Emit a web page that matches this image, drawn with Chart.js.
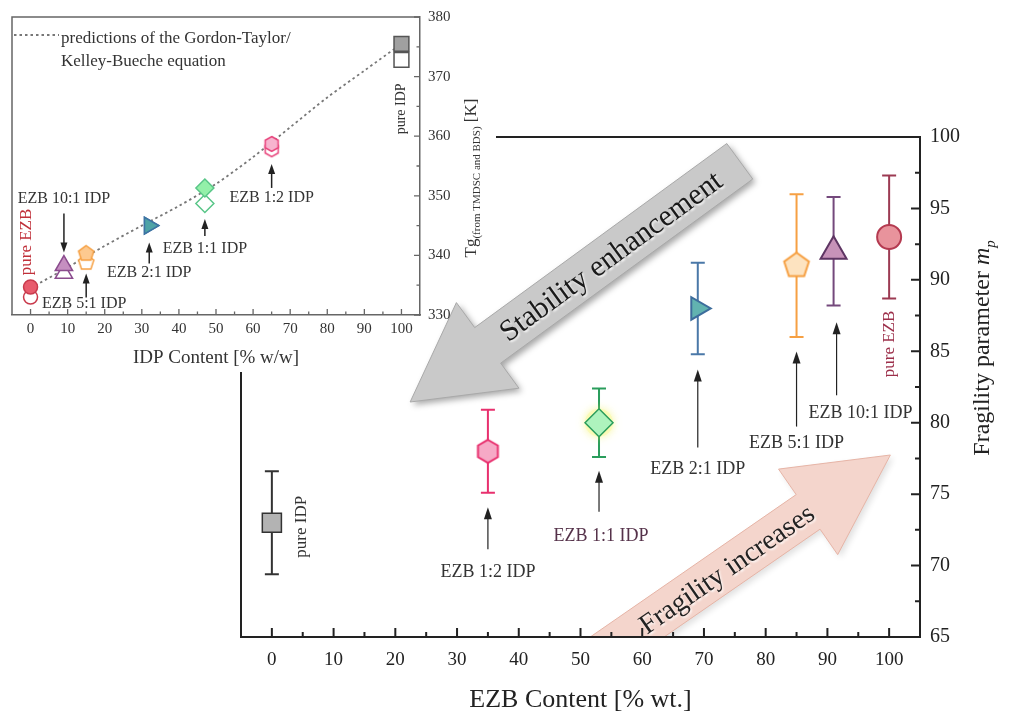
<!DOCTYPE html>
<html><head><meta charset="utf-8">
<script src="https://cdn.jsdelivr.net/npm/chart.js@4.4.0/dist/chart.umd.min.js"></script>
<style>
html,body{margin:0;padding:0;background:#fff;}
#wrap{position:relative;width:1009px;height:716px;overflow:hidden;background:#fff;}
#main{position:absolute;left:0;top:0;}
#inset{position:absolute;left:0;top:0;}
</style></head><body>
<div id="wrap"><canvas id="main" width="1009" height="716"></canvas><canvas id="inset" width="496" height="372"></canvas></div>
<script>
// ---------------- DATA ----------------
const SAMPLES = ['pure IDP','EZB 1:2 IDP','EZB 1:1 IDP','EZB 2:1 IDP','EZB 5:1 IDP','EZB 10:1 IDP','pure EZB'];
const EZB_CONTENT = [0, 35, 53, 69, 85, 91, 100];
const FRAGILITY = [73, 78, 80, 88, 91, 92, 93];
const FRAGILITY_ERR = [3.6, 2.9, 2.4, 3.2, 5.0, 3.8, 4.3];
const IDP_CONTENT = [100, 65, 47, 32, 15, 9, 0];
const TG_TMDSC = [375.5, 358.7, 351.3, 345.0, 340.3, 338.3, 334.7];
const TG_BDS = [372.8, 357.8, 348.7, 345.0, 338.8, 337.0, 333.0];
const GT_IDP = [0, 10, 20, 30, 40, 50, 60, 70, 80, 90, 100];
const GT_TG = [334.5, 338, 341.6, 345, 348.3, 352, 356.5, 361.5, 366.5, 371, 375.5];
const MAIN_X_TICKS = [0, 10, 20, 30, 40, 50, 60, 70, 80, 90, 100];
const MAIN_Y_TICKS = [65, 70, 75, 80, 85, 90, 95, 100];
const INSET_X_TICKS = [0, 10, 20, 30, 40, 50, 60, 70, 80, 90, 100];
const INSET_Y_TICKS = [330, 340, 350, 360, 370, 380];

// ---------------- STYLE ----------------
const SERIF = '"Liberation Serif", "Times New Roman", serif';
const INSET_BOX = {w: 496, h: 372};
const MAIN_LOOK = [
  {style:'rect', r:13.5, rot:0, fill:'#b3b3b3', stroke:'#333333', lw:1.5, bar:'#333333'},
  {style:'hex', r:11.5, rot:0, fill:'#f6a9c6', stroke:'#e8306e', lw:2, bar:'#e8306e'},
  {style:'rectRot', r:14, rot:0, fill:'#aef3bd', stroke:'#2a9d5c', lw:1.5, bar:'#2a9d5c'},
  {style:'triangle', r:13, rot:90, fill:'#62b3b0', stroke:'#3d6d9c', lw:2, bar:'#4a78a8'},
  {style:'pent', r:13, rot:0, fill:'#fde3c0', stroke:'#f6a043', lw:2, bar:'#f6a043'},
  {style:'triangle', r:15, rot:0, fill:'#c792b9', stroke:'#5e3563', lw:2, bar:'#74497c'},
  {style:'circle', r:12, rot:0, fill:'#e8939c', stroke:'#b43a50', lw:2, bar:'#9c3a52'}
];
const INSET_LOOK = [
  {style:'rect', r:10.5, rot:0, fill:'#a0a0a0', stroke:'#555555'},
  {style:'hex', r:7.5, rot:0, fill:'#f7b4cf', stroke:'#e8447c'},
  {style:'rectRot', r:9, rot:0, fill:'#93f0a9', stroke:'#59c688'},
  {style:'triangle', r:9.5, rot:90, fill:'#4ea3a6', stroke:'#3d73a3'},
  {style:'pent', r:8, rot:0, fill:'#fdc98f', stroke:'#f6a043'},
  {style:'triangle', r:10, rot:0, fill:'#c58fc0', stroke:'#8b4c8e'},
  {style:'circle', r:7, rot:0, fill:'#e85b6c', stroke:'#c93a4c'}
];
const MAIN_NOTES = [
  {i:0, rotated:true, dx:30, dy:4, color:'#333', size:17},
  {i:1, arrow:[98,56], textDy:121, color:'#333'},
  {i:2, arrow:[89,48], textDx:2, textDy:114, color:'#55324a'},
  {i:3, arrow:[139,61], textDy:161, color:'#333'},
  {i:4, arrow:[161,86], textDy:178, color:'#333'},
  {i:5, arrow:[144,71], arrowDx:3, textDx:27, textDy:162, color:'#333'},
  {i:6, rotated:true, dx:0, dy:107, color:'#9c2f4a', size:17}
];
const INSET_NOTES = [
  {i:0, rotated:true, dx:0, dy:65, size:14, color:'#333'},
  {i:1, arrow:[44,20], textDy:54},
  {i:2, arrow:[48,31], textDy:61},
  {i:3, arrow:[38,17], textDy:47},
  {i:4, arrow:[44,20], textDx:-2, textDy:50},
  {i:5, arrow:[-52,-13], textDy:-67},
  {i:6, rotated:true, dx:-4, dy:-45, size:17, color:'#c0303a'}
];
const BIG_ARROWS = [
  {text:'Stability enhancement', tail:[75.8, 98.3], tip:[22.4, 81.45], half:22, headHalf:53, headLen:96,
   fill:'#c9c9c9', stroke:'#a9a9a9', shadow:'rgba(0,0,0,0.35)', font:30, shift:-4, color:'#1a1a1a', clip:false},
  {text:'Fragility increases', tail:[52.4, 63.46], tip:[100.2, 77.74], half:21, headHalf:52, headLen:100,
   fill:'#f4d5cc', stroke:'#e6b4a6', shadow:'rgba(0,0,0,0.12)', font:28, shift:30, color:'#222', clip:true}
];

function polyCanvas(n, r, fill, stroke, lw) {
  const s = Math.ceil(2 * r + 2 * lw + 2);
  const c = document.createElement('canvas');
  c.width = s; c.height = s;
  const g = c.getContext('2d');
  g.translate(s / 2, s / 2);
  g.beginPath();
  for (let k = 0; k < n; k++) {
    const a = -Math.PI / 2 + k * 2 * Math.PI / n;
    g.lineTo(r * Math.cos(a), r * Math.sin(a));
  }
  g.closePath();
  g.fillStyle = fill; g.fill();
  g.lineWidth = lw; g.strokeStyle = stroke; g.stroke();
  return c;
}
function styleFor(look, fill, lw) {
  if (look.style === 'hex') return polyCanvas(6, look.r, fill, look.stroke, lw);
  if (look.style === 'pent') return polyCanvas(5, look.r, fill, look.stroke, lw);
  return look.style;
}
function midpoints(arr) { const m = []; for (let k = 0; k < arr.length - 1; k++) m.push((arr[k] + arr[k + 1]) / 2); return m; }

function smallArrow(ctx, x, yTail, yTip, headLen, headHalf, lw, color) {
  const dir = yTip < yTail ? -1 : 1;
  ctx.save();
  ctx.strokeStyle = color; ctx.fillStyle = color; ctx.lineWidth = lw;
  ctx.beginPath(); ctx.moveTo(x, yTail); ctx.lineTo(x, yTip - dir * headLen * 0.6); ctx.stroke();
  ctx.beginPath(); ctx.moveTo(x, yTip); ctx.lineTo(x - headHalf, yTip - dir * headLen); ctx.lineTo(x + headHalf, yTip - dir * headLen); ctx.closePath(); ctx.fill();
  ctx.restore();
}
function drawNotes(ctx, notes, xs, ys, pxFn, pyFn, baseSize, arrowOpts) {
  notes.forEach(n => {
    const px = pxFn(xs[n.i]), py = pyFn(ys[n.i]);
    ctx.save();
    ctx.fillStyle = n.color || '#333';
    ctx.textAlign = 'center'; ctx.textBaseline = 'middle';
    if (n.rotated) {
      ctx.font = (n.size || baseSize) + 'px ' + SERIF;
      ctx.translate(px + n.dx, py + n.dy); ctx.rotate(-Math.PI / 2);
      ctx.fillText(SAMPLES[n.i], 0, 0);
    } else {
      smallArrow(ctx, px + (n.arrowDx || 0), py + n.arrow[0], py + n.arrow[1], arrowOpts.len, arrowOpts.half, arrowOpts.lw, '#222');
      ctx.font = (n.size || baseSize) + 'px ' + SERIF;
      ctx.fillText(SAMPLES[n.i], px + (n.textDx || 0), py + n.textDy);
    }
    ctx.restore();
  });
}
function drawInwardTicks(ctx, chart, majX, majY, lenMaj, lenMin, color, lw) {
  const xs = chart.scales.x, ys = chart.scales.y, a = chart.chartArea;
  ctx.save(); ctx.strokeStyle = color; ctx.lineWidth = lw; ctx.beginPath();
  majX.forEach(v => { const p = xs.getPixelForValue(v); ctx.moveTo(p, a.bottom); ctx.lineTo(p, a.bottom - lenMaj); });
  midpoints(majX).forEach(v => { const p = xs.getPixelForValue(v); ctx.moveTo(p, a.bottom); ctx.lineTo(p, a.bottom - lenMin); });
  majY.forEach(v => { const p = ys.getPixelForValue(v); ctx.moveTo(a.right, p); ctx.lineTo(a.right - lenMaj, p); });
  midpoints(majY).forEach(v => { const p = ys.getPixelForValue(v); ctx.moveTo(a.right, p); ctx.lineTo(a.right - lenMin, p); });
  ctx.stroke(); ctx.restore();
}
function richRotated(ctx, xBase, cy, parts) {
  ctx.save();
  ctx.translate(xBase, cy); ctx.rotate(-Math.PI / 2);
  ctx.textBaseline = 'alphabetic'; ctx.textAlign = 'left';
  let total = 0;
  parts.forEach(p => { ctx.font = p.font; p.w = ctx.measureText(p.t).width; total += p.w; });
  let x = -total / 2;
  parts.forEach(p => { ctx.font = p.font; ctx.fillStyle = p.color; ctx.fillText(p.t, x, p.dy || 0); x += p.w; });
  ctx.restore();
}
function drawBigArrow(ctx, A, xs, ys, area) {
  const tail = [xs.getPixelForValue(A.tail[0]), ys.getPixelForValue(A.tail[1])];
  const tip = [xs.getPixelForValue(A.tip[0]), ys.getPixelForValue(A.tip[1])];
  const dx = tip[0] - tail[0], dy = tip[1] - tail[1], L = Math.hypot(dx, dy);
  const ux = dx / L, uy = dy / L, nx = -uy, ny = ux;
  const bx = tip[0] - ux * A.headLen, by = tip[1] - uy * A.headLen;
  ctx.save();
  if (A.clip) { ctx.beginPath(); ctx.rect(0, 0, ctx.canvas.width, area.bottom - 1); ctx.clip(); }
  ctx.beginPath();
  ctx.moveTo(tail[0] + nx * A.half, tail[1] + ny * A.half);
  ctx.lineTo(bx + nx * A.half, by + ny * A.half);
  ctx.lineTo(bx + nx * A.headHalf, by + ny * A.headHalf);
  ctx.lineTo(tip[0], tip[1]);
  ctx.lineTo(bx - nx * A.headHalf, by - ny * A.headHalf);
  ctx.lineTo(bx - nx * A.half, by - ny * A.half);
  ctx.lineTo(tail[0] - nx * A.half, tail[1] - ny * A.half);
  ctx.closePath();
  ctx.shadowColor = A.shadow; ctx.shadowBlur = 6; ctx.shadowOffsetX = 3; ctx.shadowOffsetY = 3;
  ctx.fillStyle = A.fill; ctx.fill();
  ctx.shadowColor = 'transparent';
  ctx.lineWidth = 1; ctx.strokeStyle = A.stroke; ctx.stroke();
  let ang = Math.atan2(dy, dx);
  let rx = ux, ry = uy;
  if (Math.cos(ang) < 0) { ang += Math.PI; rx = -ux; ry = -uy; }
  const mx = (tail[0] + bx) / 2 + rx * A.shift, my = (tail[1] + by) / 2 + ry * A.shift;
  ctx.translate(mx, my); ctx.rotate(ang);
  ctx.font = A.font + 'px ' + SERIF; ctx.textAlign = 'center'; ctx.textBaseline = 'middle';
  ctx.shadowColor = 'rgba(255,255,255,0.9)'; ctx.shadowBlur = 2; ctx.shadowOffsetX = 1.5; ctx.shadowOffsetY = 1.5;
  ctx.fillStyle = A.color; ctx.fillText(A.text, 0, 2);
  ctx.restore();
}

// ---------------- MAIN CHART ----------------
const mainDecor = {
  id: 'mainDecor',
  beforeDatasetsDraw(chart) {
    const ctx = chart.ctx, xs = chart.scales.x, ys = chart.scales.y;
    EZB_CONTENT.forEach((xv, k) => {
      const px = xs.getPixelForValue(xv);
      const y1 = ys.getPixelForValue(FRAGILITY[k] + FRAGILITY_ERR[k]);
      const y2 = ys.getPixelForValue(FRAGILITY[k] - FRAGILITY_ERR[k]);
      ctx.save(); ctx.strokeStyle = MAIN_LOOK[k].bar; ctx.lineWidth = 2;
      ctx.beginPath(); ctx.moveTo(px, y1); ctx.lineTo(px, y2);
      ctx.moveTo(px - 7, y1); ctx.lineTo(px + 7, y1);
      ctx.moveTo(px - 7, y2); ctx.lineTo(px + 7, y2);
      ctx.stroke(); ctx.restore();
    });
    const k2 = 2, gx = xs.getPixelForValue(EZB_CONTENT[k2]), gy = ys.getPixelForValue(FRAGILITY[k2]);
    ctx.save(); ctx.shadowColor = 'rgba(240,240,80,0.9)'; ctx.shadowBlur = 8;
    ctx.fillStyle = 'rgba(250,250,170,0.6)'; ctx.beginPath(); ctx.arc(gx, gy, 14, 0, Math.PI * 2); ctx.fill(); ctx.restore();
  },
  afterDraw(chart) {
    const ctx = chart.ctx, a = chart.chartArea, xs = chart.scales.x, ys = chart.scales.y;
    BIG_ARROWS.forEach(A => drawBigArrow(ctx, A, xs, ys, a));
    ctx.save(); ctx.strokeStyle = '#222'; ctx.lineWidth = 2;
    ctx.beginPath();
    ctx.moveTo(INSET_BOX.w, a.top); ctx.lineTo(a.right, a.top);
    ctx.moveTo(a.left, INSET_BOX.h); ctx.lineTo(a.left, a.bottom);
    ctx.stroke(); ctx.restore();
    drawInwardTicks(ctx, chart, MAIN_X_TICKS, MAIN_Y_TICKS, 9, 5, '#222', 2);
    drawNotes(ctx, MAIN_NOTES, EZB_CONTENT, FRAGILITY, v => xs.getPixelForValue(v), v => ys.getPixelForValue(v), 18, {len:12, half:4, lw:1.2});
    richRotated(ctx, 989, 348, [
      {t:'Fragility parameter ', font:'24px ' + SERIF, color:'#222'},
      {t:'m', font:'italic 24px ' + SERIF, color:'#222'},
      {t:'p', font:'italic 15px ' + SERIF, color:'#222', dy:6}
    ]);
  }
};

new Chart(document.getElementById('main'), {
  type: 'scatter',
  data: {datasets: [{
    data: EZB_CONTENT.map((x, k) => ({x, y: FRAGILITY[k]})),
    pointStyle: MAIN_LOOK.map(l => styleFor(l, l.fill, l.lw)),
    pointRadius: MAIN_LOOK.map(l => l.r),
    pointRotation: MAIN_LOOK.map(l => l.rot),
    pointBackgroundColor: MAIN_LOOK.map(l => l.fill),
    pointBorderColor: MAIN_LOOK.map(l => l.stroke),
    pointBorderWidth: MAIN_LOOK.map(l => l.lw)
  }]},
  options: {
    responsive: false, animation: false, events: [], devicePixelRatio: 1,
    layout: {padding: {left: 241, top: 137, right: 0, bottom: 0}},
    plugins: {legend: {display: false}, tooltip: {enabled: false}},
    scales: {
      x: {type: 'linear', position: 'bottom', min: -5, max: 105,
        afterBuildTicks: s => { s.ticks = MAIN_X_TICKS.map(v => ({value: v})); },
        afterFit: s => { s.height = 79; },
        grid: {display: false, drawTicks: false},
        border: {display: true, color: '#222', width: 2},
        ticks: {padding: 12, color: '#222', font: {family: SERIF, size: 19}, maxRotation: 0, autoSkip: false},
        title: {display: true, text: 'EZB Content [% wt.]', color: '#222', font: {family: SERIF, size: 26}, padding: {top: 0, bottom: 0}}
      },
      y: {type: 'linear', position: 'right', min: 65, max: 100,
        afterBuildTicks: s => { s.ticks = MAIN_Y_TICKS.map(v => ({value: v})); },
        afterFit: s => { s.width = 89; },
        grid: {display: false, drawTicks: false},
        border: {display: true, color: '#222', width: 2},
        ticks: {padding: 10, color: '#222', font: {family: SERIF, size: 20}, autoSkip: false}
      }
    }
  },
  plugins: [mainDecor]
});

// ---------------- INSET CHART ----------------
const insetDecor = {
  id: 'insetDecor',
  afterDraw(chart) {
    const ctx = chart.ctx, a = chart.chartArea, xs = chart.scales.x, ys = chart.scales.y;
    ctx.save(); ctx.strokeStyle = '#666'; ctx.lineWidth = 1.5;
    ctx.beginPath(); ctx.moveTo(a.left, a.bottom); ctx.lineTo(a.left, a.top); ctx.lineTo(a.right, a.top); ctx.stroke(); ctx.restore();
    drawInwardTicks(ctx, chart, INSET_X_TICKS, INSET_Y_TICKS, 6, 3.5, '#666', 1.3);
    drawNotes(ctx, INSET_NOTES, IDP_CONTENT, TG_TMDSC, v => xs.getPixelForValue(v), v => ys.getPixelForValue(v), 16, {len:10, half:3.5, lw:1.5});
    ctx.save();
    ctx.strokeStyle = '#777'; ctx.lineWidth = 1.8; ctx.setLineDash([2.5, 3]);
    ctx.beginPath(); ctx.moveTo(a.left + 2, a.top + 18); ctx.lineTo(a.left + 47, a.top + 18); ctx.stroke();
    ctx.setLineDash([]);
    ctx.fillStyle = '#333'; ctx.font = '17px ' + SERIF; ctx.textAlign = 'left'; ctx.textBaseline = 'alphabetic';
    ctx.fillText('predictions of the Gordon-Taylor/', a.left + 49, a.top + 26);
    ctx.fillText('Kelley-Bueche equation', a.left + 49, a.top + 49);
    ctx.restore();
    richRotated(ctx, 476, 178, [
      {t:'Tg', font:'17px ' + SERIF, color:'#333'},
      {t:'(from TMDSC and BDS)', font:'11px ' + SERIF, color:'#333', dy:4},
      {t:' [K]', font:'17px ' + SERIF, color:'#333'}
    ]);
  }
};

new Chart(document.getElementById('inset'), {
  type: 'scatter',
  data: {datasets: [
    {data: IDP_CONTENT.map((x, k) => ({x, y: TG_TMDSC[k]})),
     pointStyle: INSET_LOOK.map(l => styleFor(l, l.fill, 1.5)),
     pointRadius: INSET_LOOK.map(l => l.r), pointRotation: INSET_LOOK.map(l => l.rot),
     pointBackgroundColor: INSET_LOOK.map(l => l.fill), pointBorderColor: INSET_LOOK.map(l => l.stroke), pointBorderWidth: 1.5},
    {data: IDP_CONTENT.map((x, k) => ({x, y: TG_BDS[k]})),
     pointStyle: INSET_LOOK.map(l => styleFor(l, '#ffffff', 1.5)),
     pointRadius: INSET_LOOK.map(l => l.r), pointRotation: INSET_LOOK.map(l => l.rot),
     pointBackgroundColor: '#ffffff', pointBorderColor: INSET_LOOK.map(l => l.stroke), pointBorderWidth: 1.5},
    {type: 'line', data: GT_IDP.map((x, k) => ({x, y: GT_TG[k]})), showLine: true, borderColor: '#777', borderWidth: 1.8,
     borderDash: [2.5, 3], pointRadius: 0, fill: false, tension: 0.3}
  ]},
  options: {
    responsive: false, animation: false, events: [], devicePixelRatio: 1,
    layout: {padding: {left: 11, top: 15, right: 0, bottom: 0}},
    plugins: {legend: {display: false}, tooltip: {enabled: false}},
    scales: {
      x: {type: 'linear', position: 'bottom', min: -5, max: 105,
        afterBuildTicks: s => { s.ticks = INSET_X_TICKS.map(v => ({value: v})); },
        afterFit: s => { s.height = 57; },
        grid: {display: false, drawTicks: false},
        border: {display: true, color: '#666', width: 1.5},
        ticks: {padding: 5, color: '#333', font: {family: SERIF, size: 15}, maxRotation: 0, autoSkip: false},
        title: {display: true, text: 'IDP Content [% w/w]', color: '#333', font: {family: SERIF, size: 19}, padding: {top: 3, bottom: 3}}
      },
      y: {type: 'linear', position: 'right', min: 330, max: 380,
        afterBuildTicks: s => { s.ticks = INSET_Y_TICKS.map(v => ({value: v})); },
        afterFit: s => { s.width = 76; },
        grid: {display: false, drawTicks: false},
        border: {display: true, color: '#666', width: 1.5},
        ticks: {padding: 8, color: '#333', font: {family: SERIF, size: 15}, autoSkip: false}
      }
    }
  },
  plugins: [insetDecor]
});
</script>
</body></html>
